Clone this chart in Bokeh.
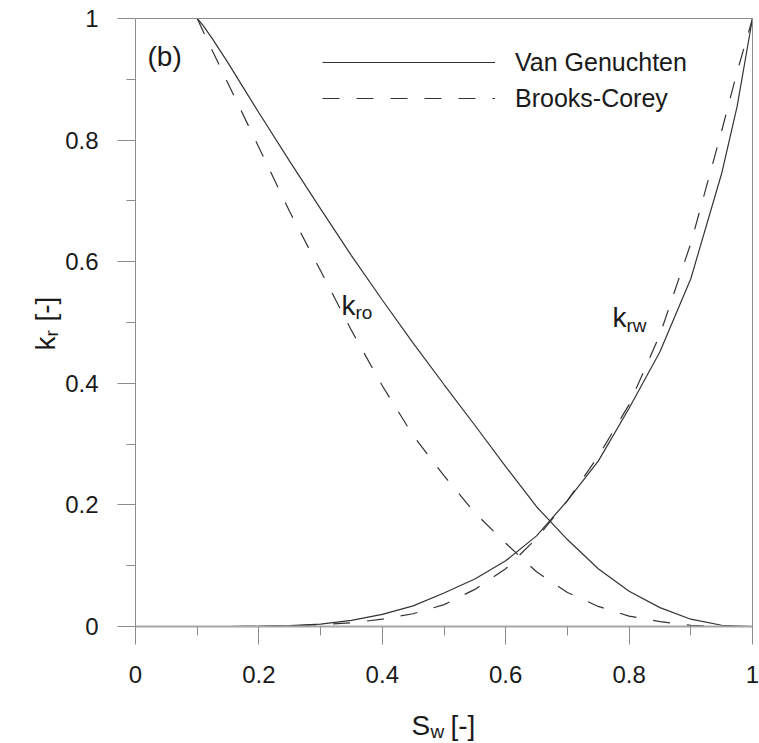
from bokeh.plotting import figure
from bokeh.models import FixedTicker, Label, Legend, LegendItem, Range1d, LinearAxis
from bokeh.embed import file_html
from bokeh.resources import INLINE
import math

# ---------------- data ----------------
sw_kro_vg = [0.10, 0.11, 0.125, 0.15, 0.175, 0.20, 0.25, 0.30, 0.35, 0.40, 0.45, 0.50,
             0.55, 0.60, 0.65, 0.70, 0.75, 0.80, 0.85, 0.90, 0.95, 1.00]
kro_vg = [1.00, 0.988, 0.966, 0.927, 0.886, 0.845, 0.765, 0.687, 0.610, 0.537, 0.466, 0.398,
          0.331, 0.263, 0.197, 0.143, 0.095, 0.058, 0.031, 0.012, 0.002, 0.0]

sw_kro_bc = [0.10, 0.125, 0.15, 0.20, 0.25, 0.30, 0.35, 0.40, 0.45, 0.50, 0.55,
             0.60, 0.65, 0.70, 0.75, 0.80, 0.85, 0.90, 0.95, 1.00]
kro_bc = [1.00, 0.946, 0.893, 0.788, 0.682, 0.585, 0.487, 0.396, 0.314, 0.248, 0.187,
          0.137, 0.090, 0.056, 0.033, 0.017, 0.008, 0.002, 0.0, 0.0]

sw_krw_vg = [0.10, 0.15, 0.20, 0.25, 0.30, 0.35, 0.40, 0.45, 0.50, 0.55, 0.60,
             0.65, 0.70, 0.75, 0.80, 0.85, 0.90, 0.95, 0.975, 1.00]
krw_vg = [0.0, 0.0, 0.0005, 0.0015, 0.004, 0.010, 0.020, 0.034, 0.055, 0.078, 0.108,
          0.149, 0.207, 0.272, 0.359, 0.452, 0.572, 0.745, 0.855, 1.00]

sw_krw_bc = [0.10, 0.15, 0.20, 0.25, 0.30, 0.35, 0.40, 0.45, 0.50, 0.55, 0.60,
             0.65, 0.70, 0.75, 0.80, 0.85, 0.90, 0.95, 0.975, 1.00]
krw_bc = [0.0, 0.0, 0.0003, 0.001, 0.003, 0.006, 0.012, 0.021, 0.036, 0.061, 0.095,
          0.145, 0.207, 0.280, 0.365, 0.480, 0.630, 0.815, 0.912, 1.00]

x_ticks = [0, 0.2, 0.4, 0.6, 0.8, 1]
x_tick_labels = ["0", "0.2", "0.4", "0.6", "0.8", "1"]
y_ticks = [0, 0.2, 0.4, 0.6, 0.8, 1]
y_tick_labels = ["0", "0.2", "0.4", "0.6", "0.8", "1"]
minor_ticks = [0.1, 0.3, 0.5, 0.7, 0.9]

series_names = ["Van Genuchten", "Brooks-Corey"]

# ---------------- figure ----------------
FONT = "Liberation Sans"
AX = "#8c8c8c"
INK = "#1a1a1a"
LINE = "#333333"

W, H = 759, 743
FL, FT = 135, 18           # pixel position of data (0, 1)
SX, SY = 617.0, 608.0      # pixels per data unit

p = figure(frame_width=W, frame_height=H,
           x_range=Range1d(-FL / SX, (W - FL) / SX),
           y_range=Range1d(-(H - FT - SY) / SY, 1 + FT / SY),
           output_backend="svg", toolbar_location=None,
           min_border_left=0, min_border_right=0,
           min_border_top=0, min_border_bottom=0)
p.grid.visible = False
p.background_fill_color = "white"
p.border_fill_color = "white"
p.outline_line_color = None

p.xaxis.ticker = FixedTicker(ticks=x_ticks, minor_ticks=minor_ticks)
p.yaxis.ticker = FixedTicker(ticks=y_ticks, minor_ticks=minor_ticks)
p.xaxis.major_label_overrides = dict(zip(x_ticks, x_tick_labels))
p.yaxis.major_label_overrides = dict(zip(y_ticks, y_tick_labels))

for ax in (p.xaxis[0], p.yaxis[0]):
    ax.fixed_location = 0
    ax.bounds = (0, 1)
    ax.major_tick_out = 18
    ax.major_tick_in = 0
    ax.minor_tick_out = 9
    ax.minor_tick_in = 0
    ax.major_tick_line_color = AX
    ax.minor_tick_line_color = AX
    ax.axis_line_color = AX
    ax.major_label_text_font = FONT
    ax.major_label_text_font_size = "24px"
    ax.major_label_text_color = INK
p.xaxis.major_label_standoff = 21
p.yaxis.major_label_standoff = 19
p.xaxis.axis_line_width = 2
p.xaxis.axis_line_color = "#a6a6a6"

# frame lines on top and right (no ticks)
for side in ("above", "right"):
    fa = LinearAxis(fixed_location=1, bounds=(0, 1), ticker=FixedTicker(ticks=[]),
                    axis_line_color=AX, major_tick_line_color=None,
                    minor_tick_line_color=None, major_label_text_alpha=0)
    p.add_layout(fa, side)

# ---------------- curves ----------------
r_vg = p.line(sw_kro_vg, kro_vg, line_color=LINE, line_width=1.2)
p.line(sw_krw_vg, krw_vg, line_color=LINE, line_width=1.2)
r_bc = p.line(sw_kro_bc, kro_bc, line_color=LINE, line_width=1.2, line_dash="17 17")
p.line(sw_krw_bc, krw_bc, line_color=LINE, line_width=1.2, line_dash="17 17")

legend = Legend(items=[LegendItem(label=series_names[0], renderers=[r_vg]),
                       LegendItem(label=series_names[1], renderers=[r_bc])],
                location=(322, H - 116), glyph_width=173, glyph_height=36,
                label_height=36, label_standoff=20, spacing=0, padding=0, margin=0,
                border_line_alpha=0, background_fill_alpha=0,
                label_text_font=FONT, label_text_font_size="25px",
                label_text_color=INK)
p.add_layout(legend)

# ---------------- annotations ----------------
def px2x(px):
    return (px - FL) / SX

def px2y(py):
    return (FT + SY - py) / SY

def lab(x, y, text, size, angle=0.0):
    p.add_layout(Label(x=x, y=y, text=text, text_font=FONT, text_font_size=size,
                       text_color=INK, text_baseline="alphabetic", text_align="left",
                       angle=angle))

# (b)
lab(px2x(147), px2y(56), "(b)", "28px")

# k_ro
lab(px2x(341), px2y(305), "k", "28px")
lab(px2x(355), px2y(312), "ro", "19px")
# k_rw
lab(px2x(612), px2y(317), "k", "28px")
lab(px2x(626), px2y(325), "rw", "19px")

# x title: S_w [-]
lab(px2x(411), px2y(725), "S", "28px")
lab(px2x(430), px2y(731), "w", "19px")
lab(px2x(450), px2y(725), "[-]", "28px")

# y title: k_r [-] (rotated)
rot = math.pi / 2
lab(px2x(45), px2y(350), "k", "28px", rot)
lab(px2x(51), px2y(336), "r", "19px", rot)
lab(px2x(45), px2y(321), "[-]", "28px", rot)

open("out.html", "w").write(file_html(p, INLINE))
